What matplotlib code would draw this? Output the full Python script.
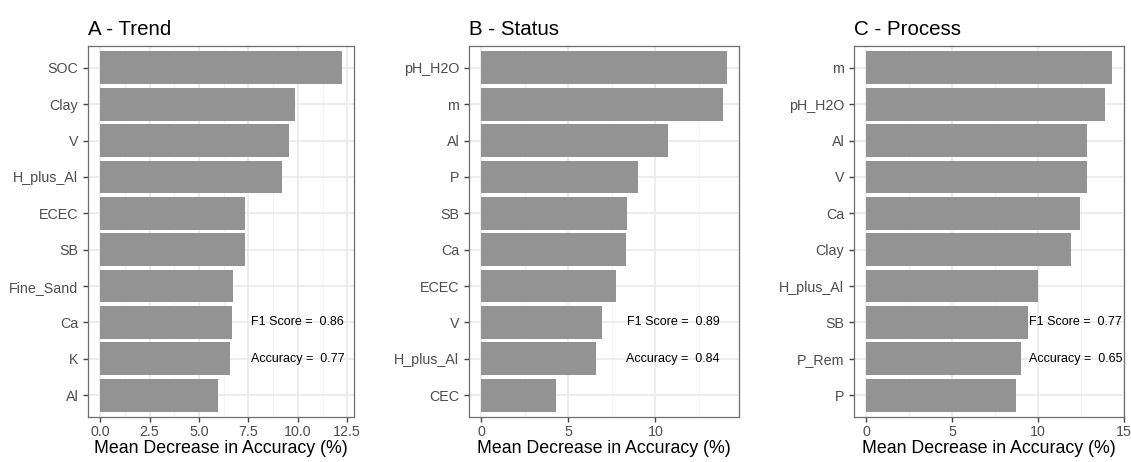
import matplotlib

matplotlib.use("Agg")
import matplotlib.pyplot as plt
import numpy as np

plt.rcParams["font.family"] = ["Liberation Sans", "DejaVu Sans"]

# variable importance, listed top to bottom
trend_vars = ["SOC", "Clay", "V", "H_plus_Al", "ECEC", "SB", "Fine_Sand", "Ca", "K", "Al"]
trend_mda = [12.23, 9.86, 9.56, 9.22, 7.33, 7.33, 6.74, 6.69, 6.55, 5.96]

status_vars = ["pH_H2O", "m", "Al", "P", "SB", "Ca", "ECEC", "V", "H_plus_Al", "CEC"]
status_mda = [14.09, 13.88, 10.73, 8.99, 8.34, 8.28, 7.75, 6.91, 6.60, 4.27]

process_vars = ["m", "pH_H2O", "Al", "V", "Ca", "Clay", "H_plus_Al", "SB", "P_Rem", "P"]
process_mda = [14.28, 13.92, 12.83, 12.83, 12.42, 11.90, 10.00, 9.44, 9.02, 8.73]

titles = ["A - Trend", "B - Status", "C - Process"]
f1_scores = [0.86, 0.89, 0.77]
accuracies = [0.77, 0.84, 0.65]
label_x = [10.0, 11.0, 12.2]
x_ticks = [[0, 2.5, 5, 7.5, 10, 12.5], [0, 5, 10], [0, 5, 10, 15]]
x_ticklabels = [["0.0", "2.5", "5.0", "7.5", "10.0", "12.5"], ["0", "5", "10"], ["0", "5", "10", "15"]]
x_upper = [None, None, 15.0]

panels = [(trend_vars, trend_mda), (status_vars, status_mda), (process_vars, process_mda)]
lefts = [88, 469, 854]
widths = [266, 270, 270]

W, H = 1131, 462
fig = plt.figure(figsize=(W / 100, H / 100), dpi=100)

for k, (names, vals) in enumerate(panels):
    ax = fig.add_axes([lefts[k] / W, (H - 417) / H, widths[k] / W, 371 / H])
    n = len(names)
    ypos = np.arange(n, 0, -1)
    vmax = max(vals)
    lo = -0.05 * vmax
    hi = x_upper[k] if x_upper[k] else vmax * 1.05
    ax.set_xlim(lo, hi)
    ax.set_ylim(0.4, n + 0.6)

    # ggplot-style major/minor grid
    ticks = x_ticks[k]
    step = ticks[1] - ticks[0]
    minors = np.arange(ticks[0] - step / 2, hi + step, step)
    for m in minors:
        if lo < m < hi:
            ax.axvline(m, color="#f2f2f2", lw=0.6, zorder=0)
    for t in ticks:
        ax.axvline(t, color="#e8e8e8", lw=1.1, zorder=0)
    for y in ypos:
        ax.axhline(y, color="#e8e8e8", lw=1.1, zorder=0)

    ax.barh(ypos, vals, height=0.9, color="#939393", zorder=2)

    ax.text(label_x[k], 3, f"F1 Score =  {f1_scores[k]:.2f}", ha="center", va="center",
            fontsize=9, color="black", zorder=3)
    ax.text(label_x[k], 2, f"Accuracy =  {accuracies[k]:.2f}", ha="center", va="center",
            fontsize=9, color="black", zorder=3)

    ax.set_yticks(ypos, names)
    ax.set_xticks(ticks, x_ticklabels[k])
    ax.tick_params(axis="both", colors="#444444", labelcolor="#4d4d4d",
                   labelsize=10.3, length=3.5, width=1.0)
    ax.tick_params(axis="x", pad=2)
    for sp in ax.spines.values():
        sp.set_color("#6e6e6e")
        sp.set_linewidth(0.9)

    ax.set_xlabel("Mean Decrease in Accuracy (%)", fontsize=12.8, color="black", labelpad=1)
    ax.set_title(titles[k], loc="left", fontsize=14.8, color="black", pad=8)

fig.savefig("out.png", dpi=100)
